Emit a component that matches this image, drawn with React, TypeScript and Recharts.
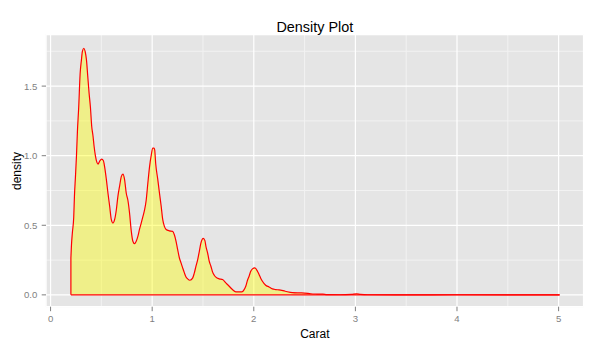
import React from 'react';
import { ComposedChart, Area, XAxis, YAxis, CartesianGrid, ReferenceLine } from 'recharts';

const carat = [
  0.2, 0.205, 0.215, 0.228, 0.235, 0.245, 0.255, 0.264, 0.277, 0.291, 0.304, 0.313, 0.327, 0.34, 0.353,
  0.366, 0.379, 0.392, 0.405, 0.418, 0.428, 0.441, 0.457, 0.467, 0.483, 0.503, 0.519, 0.532, 0.549, 0.565,
  0.581, 0.598, 0.614, 0.63, 0.647, 0.663, 0.679, 0.696, 0.712, 0.728, 0.745, 0.761, 0.777, 0.794, 0.81,
  0.826, 0.843, 0.859, 0.875, 0.892, 0.908, 0.925, 0.941, 0.957, 0.974, 0.99, 1.006, 1.019, 1.025, 1.035,
  1.055, 1.072, 1.088, 1.104, 1.121, 1.137, 1.17, 1.202, 1.219, 1.235, 1.251, 1.268, 1.284, 1.3, 1.317,
  1.333, 1.349, 1.372, 1.398, 1.415, 1.431, 1.448, 1.464, 1.48, 1.503, 1.519, 1.529, 1.546, 1.562, 1.578,
  1.594, 1.611, 1.627, 1.66, 1.692, 1.725, 1.758, 1.79, 1.823, 1.882, 1.905, 1.921, 1.938, 1.954, 1.97,
  1.987, 2.01, 2.036, 2.052, 2.068, 2.085, 2.117, 2.15, 2.183, 2.215, 2.248, 2.31, 2.38, 2.45, 2.5,
  2.56, 2.62, 2.68, 2.72, 2.85, 2.96, 3.01, 3.05, 3.12, 3.5, 4.0, 4.5, 5.01,
];
const density = [
  0.265, 0.35, 0.45, 0.56, 0.71, 0.85, 1.0, 1.17, 1.35, 1.59, 1.69, 1.75, 1.772, 1.75, 1.69,
  1.57, 1.45, 1.35, 1.21, 1.14, 1.07, 1.0, 0.95, 0.94, 0.96, 0.976, 0.965, 0.92, 0.83, 0.73,
  0.64, 0.54, 0.516, 0.54, 0.61, 0.71, 0.78, 0.85, 0.868, 0.83, 0.73, 0.68, 0.59, 0.46, 0.385,
  0.368, 0.385, 0.42, 0.47, 0.516, 0.56, 0.61, 0.68, 0.8, 0.92, 1.0, 1.054, 1.055, 1.04, 0.94,
  0.83, 0.73, 0.64, 0.54, 0.49, 0.47, 0.46, 0.456, 0.43, 0.385, 0.325, 0.265, 0.23, 0.194, 0.158,
  0.129, 0.115, 0.105, 0.12, 0.158, 0.206, 0.253, 0.313, 0.373, 0.406, 0.39, 0.349, 0.3, 0.24, 0.206,
  0.165, 0.141, 0.127, 0.115, 0.11, 0.086, 0.062, 0.038, 0.022, 0.022, 0.038, 0.062, 0.105, 0.134, 0.17,
  0.187, 0.194, 0.17, 0.146, 0.12, 0.098, 0.069, 0.057, 0.043, 0.038, 0.036, 0.026, 0.016, 0.014, 0.013,
  0.008, 0.006, 0.005, 0.002, 0.001, 0.003, 0.008, 0.004, 0.001, 0.0005, 0.0008, 0.0005, 0,
];

const xTicks = [0, 1, 2, 3, 4, 5];
const yTicks = [0, 0.5, 1, 1.5];
const xMinor = [0.5, 1.5, 2.5, 3.5, 4.5];
const yMinor = [0.25, 0.75, 1.25, 1.75];

const chartTitle = 'Density Plot';
const xTitle = 'Carat';
const yTitle = 'density';

const data = carat.map((c, i) => ({ carat: c, density: density[i] }));

const FONT = "'Liberation Sans', Arial, sans-serif";
const GREY = '#7F7F7F';
const X_DOMAIN: [number, number] = [-0.045, 5.245];
const Y_DOMAIN: [number, number] = [-0.085, 1.87];

export default function App() {
  const last = carat.length - 1;
  return (
    <div style={{ position: 'absolute', left: 0, top: 0, width: 596, height: 351, background: '#FFFFFF' }}>
      <ComposedChart width={596} height={351} data={data} margin={{ top: 34.6, right: 12.5, bottom: 0, left: 0 }}>
        <CartesianGrid
          xAxisId="minor"
          yAxisId="minor"
          fill="#E5E5E5"
          fillOpacity={1}
          stroke="#F2F2F2"
          strokeWidth={1}
        />
        <CartesianGrid stroke="#FFFFFF" strokeWidth={1.2} />
        <XAxis
          xAxisId="minor"
          dataKey="carat"
          type="number"
          domain={X_DOMAIN}
          ticks={xMinor}
          interval={0}
          allowDataOverflow
          hide
        />
        <YAxis yAxisId="minor" type="number" domain={Y_DOMAIN} ticks={yMinor} interval={0} allowDataOverflow hide />
        <XAxis
          dataKey="carat"
          type="number"
          domain={X_DOMAIN}
          ticks={xTicks}
          interval={0}
          allowDataOverflow
          axisLine={false}
          tickLine={{ stroke: GREY, strokeWidth: 1 }}
          tickSize={4.5}
          tickMargin={4}
          height={44.3}
          tick={{ fill: GREY, fontSize: 9.6, fontFamily: FONT }}
        />
        <YAxis
          type="number"
          domain={Y_DOMAIN}
          ticks={yTicks}
          interval={0}
          allowDataOverflow
          axisLine={false}
          tickLine={{ stroke: GREY, strokeWidth: 1 }}
          tickSize={4.3}
          tickMargin={4.4}
          width={46}
          tickFormatter={(v: number) => v.toFixed(1)}
          tick={{ fill: GREY, fontSize: 9.6, fontFamily: FONT }}
        />
        <Area
          dataKey="density"
          type="monotone"
          baseValue={0}
          fill="#FFFF00"
          fillOpacity={0.4}
          stroke="#FF0000"
          strokeWidth={1.2}
          dot={false}
          activeDot={false}
          isAnimationActive={false}
        />
        <ReferenceLine
          segment={[{ x: carat[0], y: 0 }, { x: carat[last], y: 0 }]}
          stroke="#FF0000"
          strokeWidth={1.2}
        />
        <ReferenceLine
          segment={[{ x: carat[0], y: 0 }, { x: carat[0], y: density[0] }]}
          stroke="#FF0000"
          strokeWidth={1.2}
        />
        <text x={314.8} y={31.7} textAnchor="middle" fontSize={14.4} fontFamily={FONT} fill="#000000">
          {chartTitle}
        </text>
        <text x={314.8} y={338.3} textAnchor="middle" fontSize={12} fontFamily={FONT} fill="#000000">
          {xTitle}
        </text>
        <text
          x={20.5}
          y={171}
          textAnchor="middle"
          fontSize={12}
          fontFamily={FONT}
          fill="#000000"
          transform="rotate(-90 20.5 171)"
        >
          {yTitle}
        </text>
      </ComposedChart>
    </div>
  );
}
